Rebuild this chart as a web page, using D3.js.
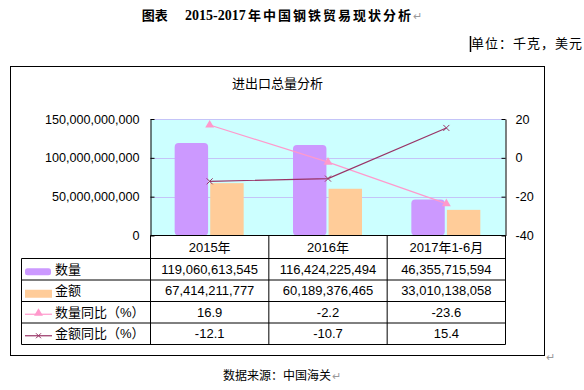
<!DOCTYPE html>
<html><head><meta charset="utf-8">
<script src="https://cdn.jsdelivr.net/npm/d3@7"></script>
<style>
body{margin:0;background:#fff}
svg{display:block}
text{font-family:"Liberation Sans","Noto Sans CJK SC",sans-serif;fill:#000}
</style>
</head><body>
<svg id="c" width="584" height="390"></svg>
<script>
// ---- data ----
const categories = ["2015年", "2016年", "2017年1-6月"];
const quantity = [119060613545, 116424225494, 46355715594];
const amount = [67414211777, 60189376465, 33010138058];
const quantityYoY = [16.9, -2.2, -23.6];
const amountYoY = [-12.1, -10.7, 15.4];
const leftTicks = [0, 50000000000, 100000000000, 150000000000];
const rightTicks = [-40, -20, 0, 20];
const seriesNames = ["数量", "金额", "数量同比（%）", "金额同比（%）"];
const chartTitle = "进出口总量分析";

const colors = {bg:"#CCFFFF", grid:"#C4C4F8", qty:"#CC99FF", amt:"#FFCC99", qtyLine:"#FF99CC", amtLine:"#993366"};

const svg = d3.select("#c");
const L = 150.5, R = 505.5, T = 119, B = 235.5;

const x = d3.scaleBand().domain(categories).range([L, R]).padding(0);
const x1 = d3.scaleBand().domain(["数量", "金额"]).range([-35, 34]).paddingInner(0.06);
const yL = d3.scaleLinear().domain([0, 150000000000]).range([B, T]);
const yR = d3.scaleLinear().domain([-40, 20]).range([B, T]);
const rowY = d3.scaleBand().domain(seriesNames).range([258.5, 344.5]);

// frame
svg.append("rect").attr("x", 10.5).attr("y", 66.5).attr("width", 534).attr("height", 289)
  .attr("fill", "#fff").attr("stroke", "#000");

// page title
const pt = svg.append("text").attr("x", 141.7).attr("y", 20).style("font-weight", "bold");
pt.append("tspan").style("font-family", "'Noto Sans CJK SC'").style("font-size", "13px").text("图表");
pt.append("tspan").attr("x", 185).style("font-family", "'Liberation Serif'").style("font-size", "14px").text("2015-2017");
pt.append("tspan").attr("x", 248).style("font-family", "'Noto Sans CJK SC'").style("font-size", "13px")
  .style("letter-spacing", "2px").text("年中国钢铁贸易现状分析");
svg.append("text").attr("x", 413).attr("y", 20).style("font-size", "11px").style("fill", "#999").text("↵");

// unit
svg.append("line").attr("x1", 470.5).attr("x2", 470.5).attr("y1", 36).attr("y2", 52).attr("stroke", "#000").attr("stroke-width", 1.5);
svg.append("text").attr("x", 471).attr("y", 48).style("font-size", "13px").style("letter-spacing", "1px")
  .text("单位：千克，美元");

// chart title
svg.append("text").attr("x", 277.5).attr("y", 87.5).attr("text-anchor", "middle").style("font-size", "13px").text(chartTitle);

// plot background
svg.append("rect").attr("x", L).attr("y", T).attr("width", R - L).attr("height", B - T).attr("fill", colors.bg);

// gridlines
svg.append("g").selectAll("line").data(leftTicks.filter(d => d > 0)).join("line")
  .attr("x1", L).attr("x2", R).attr("y1", d => Math.round(yL(d)) + 0.5).attr("y2", d => Math.round(yL(d)) + 0.5)
  .attr("stroke", colors.grid);

// bars
const barData = categories.map((c, i) => ({c, q: quantity[i], a: amount[i]}));
const cx = c => x(c) + x.bandwidth() / 2;
svg.append("g").selectAll("rect").data(barData).join("rect")
  .attr("x", d => cx(d.c) + x1("数量")).attr("width", x1.bandwidth())
  .attr("y", d => yL(d.q)).attr("height", d => B - yL(d.q))
  .attr("rx", 4).attr("fill", colors.qty);
svg.append("g").selectAll("rect").data(barData).join("rect")
  .attr("x", d => cx(d.c) + x1("金额")).attr("width", x1.bandwidth())
  .attr("y", d => yL(d.a)).attr("height", d => B - yL(d.a))
  .attr("fill", colors.amt);

// lines
const line = d3.line().x(d => cx(d.c)).y(d => yR(d.v));
const qLine = categories.map((c, i) => ({c, v: quantityYoY[i]}));
const aLine = categories.map((c, i) => ({c, v: amountYoY[i]}));
svg.append("path").datum(qLine).attr("d", line).attr("fill", "none").attr("stroke", colors.qtyLine).attr("stroke-width", 1.2);
svg.append("path").datum(aLine).attr("d", line).attr("fill", "none").attr("stroke", colors.amtLine).attr("stroke-width", 1.2);
const tri = d3.symbol().type(d3.symbolTriangle).size(34);
svg.append("g").selectAll("path").data(qLine).join("path")
  .attr("d", tri).attr("transform", d => `translate(${cx(d.c)},${yR(d.v)})`).attr("fill", colors.qtyLine);
const cross = "M-3,-3L3,3M-3,3L3,-3";
svg.append("g").selectAll("path").data(aLine).join("path")
  .attr("d", cross).attr("transform", d => `translate(${cx(d.c)},${yR(d.v)})`).attr("fill", "none").attr("stroke", colors.amtLine);

// axes
const fmt = d3.format(",");
const gl = svg.append("g").attr("transform", `translate(${L},0)`)
  .call(d3.axisLeft(yL).tickValues(leftTicks).tickFormat(fmt).tickSize(-4).tickSizeOuter(0).tickPadding(11));
const gr = svg.append("g").attr("transform", `translate(${R},0)`)
  .call(d3.axisRight(yR).tickValues(rightTicks).tickFormat(d => String(d)).tickSize(-4).tickSizeOuter(0).tickPadding(10));
[gl, gr].forEach(g => {
  g.selectAll("text").style("font-size", "12.6px").attr("fill", "#000");
  g.selectAll("line,path").attr("stroke", "#000");
});

// data table
const tbl = svg.append("g");
const tx0 = 21.5;
// x axis line / header top
tbl.append("line").attr("x1", L).attr("x2", R).attr("y1", B).attr("y2", B).attr("stroke", "#000");
// horizontal lines
const hl = seriesNames.map(s => rowY(s)).concat([rowY.range()[1]]);
tbl.selectAll(".h").data(hl).join("line")
  .attr("x1", tx0).attr("x2", R).attr("y1", d => d).attr("y2", d => d).attr("stroke", "#000");
// vertical lines
tbl.append("line").attr("x1", tx0).attr("x2", tx0).attr("y1", rowY.range()[0]).attr("y2", rowY.range()[1]).attr("stroke", "#000");
const vl = categories.map(c => x(c)).concat([R]);
tbl.selectAll(".v").data(vl).join("line")
  .attr("x1", d => d).attr("x2", d => d).attr("y1", B).attr("y2", rowY.range()[1]).attr("stroke", "#000");
// header
tbl.selectAll(".hd").data(categories).join("text")
  .attr("x", d => cx(d)).attr("y", (B + rowY.range()[0]) / 2).attr("dy", "0.36em")
  .attr("text-anchor", "middle").style("font-size", "13px").text(d => d);
// cells
const rows = [
  {name: seriesNames[0], vals: quantity.map(fmt)},
  {name: seriesNames[1], vals: amount.map(fmt)},
  {name: seriesNames[2], vals: quantityYoY.map(String)},
  {name: seriesNames[3], vals: amountYoY.map(String)}
];
const rc = n => rowY(n) + rowY.bandwidth() / 2;
rows.forEach(r => {
  tbl.selectAll(null).data(r.vals).join("text")
    .attr("x", (d, i) => cx(categories[i])).attr("y", rc(r.name)).attr("dy", "0.36em")
    .attr("text-anchor", "middle").style("font-size", "13px").text(d => d);
  tbl.append("text").attr("x", 55).attr("y", rc(r.name)).attr("dy", "0.36em")
    .style("font-size", "13px").text(r.name);
});
// legend keys
tbl.append("rect").attr("x", 25).attr("y", rc(seriesNames[0]) - 1).attr("width", 26).attr("height", 7).attr("rx", 2.5).attr("fill", colors.qty);
tbl.append("rect").attr("x", 25).attr("y", rc(seriesNames[1]) - 1).attr("width", 27).attr("height", 8).attr("fill", colors.amt);
tbl.append("line").attr("x1", 25).attr("x2", 52).attr("y1", rc(seriesNames[2]) + 2).attr("y2", rc(seriesNames[2]) + 2).attr("stroke", colors.qtyLine).attr("stroke-width", 1.2);
tbl.append("path").attr("d", tri).attr("transform", `translate(38.5,${rc(seriesNames[2]) + 1})`).attr("fill", colors.qtyLine);
tbl.append("line").attr("x1", 25).attr("x2", 52).attr("y1", rc(seriesNames[3]) + 2).attr("y2", rc(seriesNames[3]) + 2).attr("stroke", colors.amtLine).attr("stroke-width", 1.2);
tbl.append("path").attr("d", "M-2.5,-2.5L2.5,2.5M-2.5,2.5L2.5,-2.5").attr("transform", `translate(38.5,${rc(seriesNames[3]) + 2})`).attr("fill", "none").attr("stroke", colors.amtLine);

// paragraph marks
svg.append("text").attr("x", 546).attr("y", 361).style("font-size", "11px").style("fill", "#999").text("↵");
// source
svg.append("text").attr("x", 223).attr("y", 380).style("font-size", "12px").text("数据来源：中国海关");
svg.append("text").attr("x", 332).attr("y", 380).style("font-size", "11px").style("fill", "#999").text("↵");
</script>
</body></html>
